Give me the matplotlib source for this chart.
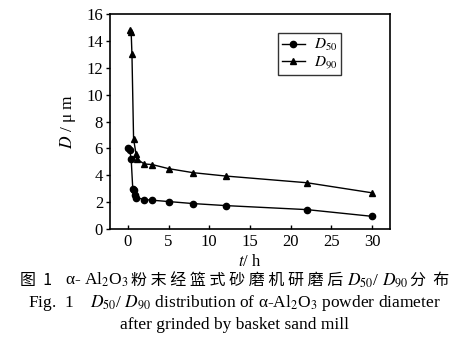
import matplotlib
matplotlib.use('Agg')
import matplotlib.pyplot as plt

# grinding time (h) and particle sizes (um)
t_d50 = [0, 0.2, 0.4, 0.6, 0.7, 0.85, 1.0, 2, 3, 5, 8, 12, 22, 30]
d50 = [6.0, 5.9, 5.25, 3.0, 2.9, 2.55, 2.35, 2.2, 2.15, 2.05, 1.9, 1.75, 1.45, 0.95]

t_d90 = [0.2, 0.4, 0.5, 0.7, 1.0, 1.15, 2, 3, 5, 8, 12, 22, 30]
d90 = [14.8, 14.7, 13.0, 6.7, 5.6, 5.2, 4.85, 4.8, 4.5, 4.2, 3.95, 3.45, 2.7]

x_ticks = [0, 5, 10, 15, 20, 25, 30]
y_ticks = [0, 2, 4, 6, 8, 10, 12, 14, 16]

SERIF = ['Liberation Serif', 'DejaVu Serif']
CJK = ['Noto Sans CJK SC', 'DejaVu Sans']

plt.rcParams['font.family'] = SERIF
plt.rcParams['mathtext.fontset'] = 'stix'

fig = plt.figure(figsize=(4.69, 3.53), dpi=100)
ax = fig.add_axes([0.2345, 0.351, 0.597, 0.609])

ax.plot(t_d50, d50, color='black', lw=1.0, marker='o', ms=4.5, label='$D_{50}$')
ax.plot(t_d90, d90, color='black', lw=1.0, marker='^', ms=5, label='$D_{90}$')

ax.set_xlim(-2.2, 32.2)
ax.set_ylim(0, 16)
ax.set_xticks(x_ticks)
ax.set_yticks(y_ticks)
ax.tick_params(labelsize=12, length=3, width=1)
ax.tick_params(axis='x', direction='in')
ax.tick_params(axis='y', direction='out', pad=2)
for s in ax.spines.values():
    s.set_linewidth(1.2)

ax.set_xlabel('$t$/ h', fontsize=12, labelpad=3)
ax.set_ylabel('$D$ / μ m', fontsize=12.5, labelpad=6)

leg = ax.legend(loc='upper right', bbox_to_anchor=(0.825, 0.912), fontsize=11,
                frameon=True, fancybox=False, edgecolor='black', borderaxespad=0,
                handlelength=1.5, handletextpad=0.6, borderpad=0.25, labelspacing=0.1)
leg.get_frame().set_linewidth(1.0)

# Chinese caption: pieces laid side by side so CJK and mathtext each get a font
pieces = [
    ('图  1', CJK),
    ('   α- Al$_2$O$_3$ ', SERIF),
    ('粉 末 经 篮 式 砂 磨 机 研 磨 后', CJK),
    (' $D_{50}$/ $D_{90}$ ', SERIF),
    ('分  布', CJK),
]
renderer = fig.canvas.get_renderer()
texts = []
for txt, fam in pieces:
    size = 11.5 if fam is CJK else 12.5
    texts.append(fig.text(0, 0, txt, family=fam, fontsize=size, ha='left', va='baseline'))
widths = [t.get_window_extent(renderer).width for t in texts]
x = (fig.bbox.width - sum(widths)) / 2
y_base = 1 - 285 / 353
for t, w in zip(texts, widths):
    t.set_position((x / fig.bbox.width, y_base))
    x += w

fig.text(0.5, 1 - 303 / 353, 'Fig.  1    $D_{50}$/ $D_{90}$ distribution of α-Al$_2$O$_3$ powder diameter',
         ha='center', va='center', fontsize=12.5)
fig.text(0.5, 1 - 325 / 353, 'after grinded by basket sand mill',
         ha='center', va='center', fontsize=12.5)

fig.savefig('out.png', dpi=100)
